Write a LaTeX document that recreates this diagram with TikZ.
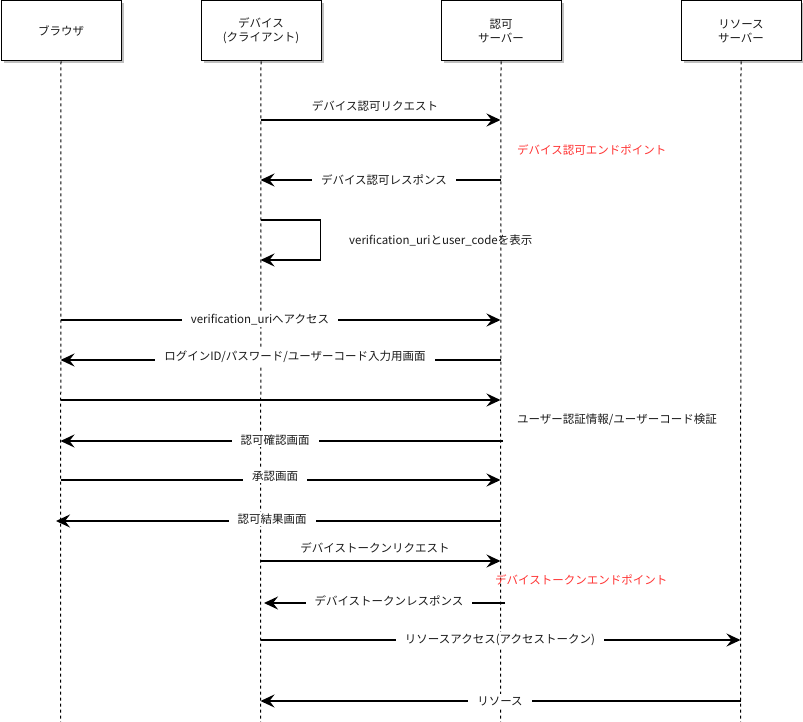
\documentclass[tikz,border=0pt]{standalone}
\usepackage{fontspec}
\setmainfont{Noto Sans CJK JP}
\usetikzlibrary{arrows.meta}
\definecolor{txt}{HTML}{1A1A1A}
\definecolor{endp}{HTML}{FF3333}
\tikzset{
  actor/.style={draw=black, line width=1pt, fill=white, minimum width=120pt, minimum height=60pt,
    inner sep=0pt, align=center, text=txt, font=\fontsize{11.5}{14}\selectfont,
    anchor=north west},
  lifeline/.style={draw=black, line width=1pt, dash pattern=on 3pt off 3pt},
  msg/.style={draw=black, line width=1.8pt, -{Stealth[length=14pt,width=13pt,inset=5pt]}},
  lbl/.style={fill=white, inner xsep=9pt, inner ysep=2pt, text=txt, font=\fontsize{11.5}{14}\selectfont},
  lblabove/.style={inner sep=1pt, text=txt, font=\fontsize{11.5}{14}\selectfont},
  note/.style={inner sep=0pt, anchor=west, text=txt, font=\fontsize{11.5}{14}\selectfont},
  rednote/.style={note, text=endp},
}
\begin{document}
\begin{tikzpicture}[x=1pt,y=-1pt]
\useasboundingbox (0,0) rectangle (803,722);
% shadows
\fill[black!25] (3.5,3.5) rectangle (123.5,63.5);
\fill[black!25] (203.5,3.5) rectangle (323.5,63.5);
\fill[black!25] (443.5,3.5) rectangle (563.5,63.5);
\fill[black!25] (683.5,3.5) rectangle (803,63.5);
% actors
\node[actor] (br) at (0.5,0.5) {ブラウザ};
\node[actor] (dev) at (200.5,0.5) {デバイス\\(クライアント)};
\node[actor] (as) at (440.5,0.5) {認可\\サーバー};
\node[actor] (rs) at (680.5,0.5) {リソース\\サーバー};
% lifeline ends
\coordinate (brE) at (60.5,722);
\coordinate (devE) at (260.5,722);
\coordinate (asE) at (500.5,722);
\coordinate (rsE) at (740.5,722);
\draw[lifeline] (br.south) -- (brE);
\draw[lifeline] (dev.south) -- (devE);
\draw[lifeline] (as.south) -- (asE);
\draw[lifeline] (rs.south) -- (rsE);

% 1
\coordinate (m1s) at (260.5,120); \coordinate (m1e) at (500.5,120);
\draw[msg] (m1s) -- (m1e);
\node[lblabove] (l1) at (375,106) {デバイス認可リクエスト};
\node[rednote] (n1) at (517,150) {デバイス認可エンドポイント};
% 2
\coordinate (m2s) at (500.5,180); \coordinate (m2e) at (260.5,180);
\draw[msg] (m2s) -- (m2e);
\node[lbl] (l2) at (384,180) {デバイス認可レスポンス};
% self loop
\coordinate (m3s) at (260.5,220); \coordinate (m3e) at (260.5,260);
\draw[msg] (m3s) -- (320.5,220) -- (320.5,260) -- (m3e);
\node[note] (l3) at (349,240) {verification\_uriとuser\_codeを表示};
% 4
\coordinate (m4s) at (60.5,320); \coordinate (m4e) at (500.5,320);
\draw[msg] (m4s) -- (m4e);
\node[lbl] (l4) at (260,320) {verification\_uriへアクセス};
% 5
\coordinate (m5s) at (500.5,360); \coordinate (m5e) at (60.5,360);
\draw[msg] (m5s) -- (m5e);
\node[lbl] (l5) at (295,357) {ログインID/パスワード/ユーザーコード入力用画面};
% 6
\coordinate (m6s) at (60.5,400); \coordinate (m6e) at (500.5,400);
\draw[msg] (m6s) -- (m6e);
\node[note] (n2) at (517,420) {ユーザー認証情報/ユーザーコード検証};
% 7
\coordinate (m7s) at (503,441); \coordinate (m7e) at (60.5,441);
\draw[msg] (m7s) -- (m7e);
\node[lbl] (l7) at (275,440) {認可確認画面};
% 8
\coordinate (m8s) at (60.5,480); \coordinate (m8e) at (500.5,480);
\draw[msg] (m8s) -- (m8e);
\node[lbl] (l8) at (275,476) {承認画面};
% 9
\coordinate (m9s) at (500.5,521); \coordinate (m9e) at (56,521);
\draw[msg] (m9s) -- (m9e);
\node[lbl] (l9) at (272,519) {認可結果画面};
% 10
\coordinate (m10s) at (260.5,561); \coordinate (m10e) at (500.5,561);
\draw[msg] (m10s) -- (m10e);
\node[lblabove] (l10) at (375,548) {デバイストークンリクエスト};
\node[rednote] (n3) at (495,580) {デバイストークンエンドポイント};
% 11
\coordinate (m11s) at (505,603); \coordinate (m11e) at (264,603);
\draw[msg] (m11s) -- (m11e);
\node[lbl] (l11) at (389,601) {デバイストークンレスポンス};
% 12
\coordinate (m12s) at (260.5,640); \coordinate (m12e) at (740.5,640);
\draw[msg] (m12s) -- (m12e);
\node[lbl] (l12) at (500,640) {リソースアクセス(アクセストークン)};
% 13
\coordinate (m13s) at (740.5,701); \coordinate (m13e) at (260.5,701);
\draw[msg] (m13s) -- (m13e);
\node[lbl] (l13) at (500,701) {リソース};
\end{tikzpicture}
\end{document}
